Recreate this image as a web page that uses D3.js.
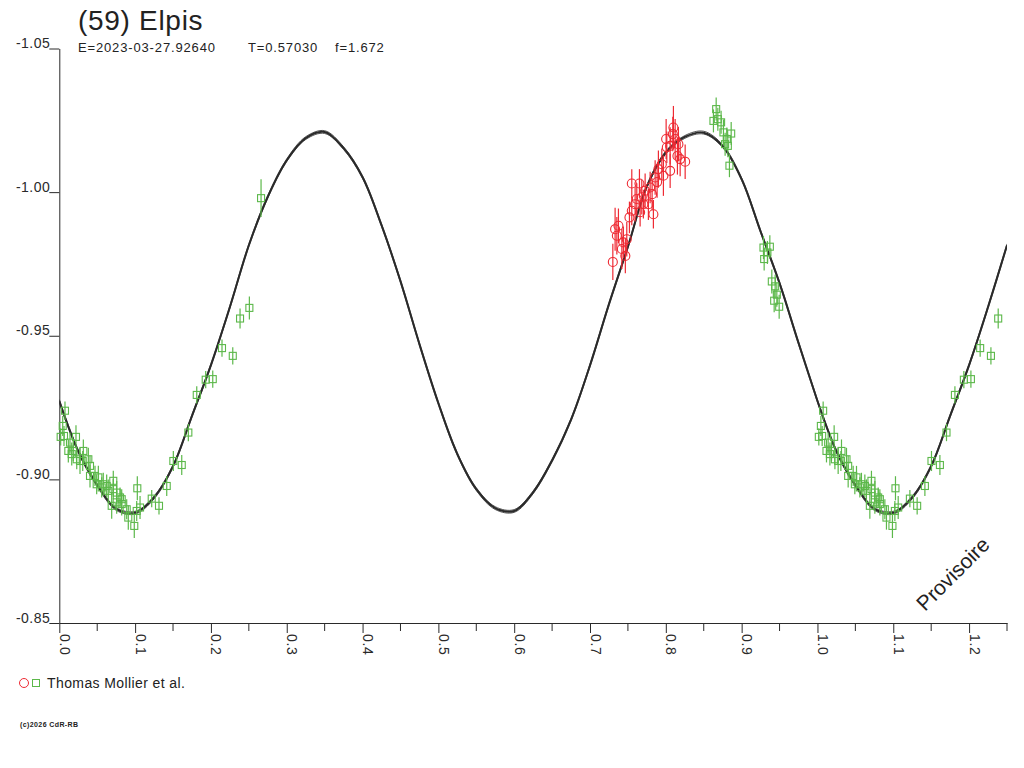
<!DOCTYPE html>
<html>
<head>
<meta charset="utf-8">
<script src="https://cdn.jsdelivr.net/npm/d3@7"></script>
<style>
  body { margin: 0; background: #fff; }
  text { font-family: "Liberation Sans", Arial, sans-serif; fill: #222; }
</style>
</head>
<body>
<div id="chart"></div>
<script>
/* DATA */
const title = "(59) Elpis"
const infoLabels = ["E=2023-03-27.92640", "T=0.57030", "f=1.672"]
const legendLabel = "Thomas Mollier et al."
const stamp = "Provisoire"
const copyright = "(c)2026 CdR-RB"

const yTicks = [-1.05, -1.00, -0.95, -0.90, -0.85]
const xTicks = [0.0, 0.1, 0.2, 0.3, 0.4, 0.5, 0.6, 0.7, 0.8, 0.9, 1.0, 1.1, 1.2]
const xMinorTicks = [0.05, 0.15, 0.25, 0.35, 0.45, 0.55, 0.65, 0.75, 0.85, 0.95, 1.05, 1.15, 1.25]

// fitted curve, one full period
const curvePhase = [0.000, 0.025, 0.050, 0.075, 0.100, 0.125, 0.150, 0.175, 0.200, 0.225,
  0.250, 0.275, 0.300, 0.325, 0.350, 0.375, 0.400, 0.425, 0.450, 0.475,
  0.500, 0.525, 0.550, 0.575, 0.600, 0.625, 0.650, 0.675, 0.700, 0.725,
  0.750, 0.775, 0.800, 0.825, 0.850, 0.875, 0.900, 0.925, 0.950, 0.975, 1.000]
const curveMag = [-0.9273, -0.9098, -0.8980, -0.8897, -0.8884, -0.8937, -0.9046, -0.9221, -0.9398, -0.9600,
  -0.9815, -0.9984, -1.0111, -1.0188, -1.0209, -1.0153, -1.0052, -0.9885, -0.9690, -0.9471,
  -0.9265, -0.9088, -0.8966, -0.8900, -0.8890, -0.8955, -0.9066, -0.9208, -0.9397, -0.9610,
  -0.9810, -1.0020, -1.0138, -1.0192, -1.0207, -1.0160, -1.0045, -0.9863, -0.9683, -0.9475, -0.9273]

// squares
const sqPhase = [0.0075, 0.0045, 0.0018, 0.0062, 0.0220, 0.0141, 0.0119, 0.0185, 0.0164, 0.0230,
  0.0317, 0.0309, 0.0383, 0.0273, 0.0405, 0.0405, 0.0471, 0.0515, 0.0493, 0.0580,
  0.0559, 0.0625, 0.0712, 0.0646, 0.0712, 0.0757, 0.0801, 0.0691, 0.0823, 0.0889,
  0.0910, 0.0989, 0.1029, 0.1065, 0.1219, 0.1315, 0.1417, 0.1504, 0.1615, 0.1702,
  0.1021, 0.0757, 0.0823, 0.1813, 0.1931, 0.2024, 0.2146, 0.2288, 0.2384, 0.2507, 0.2661,
  0.8664, 0.8686, 0.8628, 0.8729, 0.8760, 0.8862, 0.8805, 0.8782, 0.8818, 0.8839,
  0.9288, 0.9372, 0.9340, 0.9297, 0.9398, 0.9442, 0.9464, 0.9429, 0.9495]
const sqMag = [-0.9239, -0.9186, -0.9148, -0.9151, -0.9148, -0.9128, -0.9099, -0.9099, -0.9088, -0.9070,
  -0.9099, -0.9064, -0.9070, -0.9064, -0.9047, -0.9012, -0.9012, -0.9007, -0.8983, -0.8983,
  -0.8972, -0.8977, -0.8995, -0.8960, -0.8966, -0.8954, -0.8937, -0.8908, -0.8914, -0.8896,
  -0.8867, -0.8838, -0.8969, -0.8902, -0.8933, -0.8908, -0.8977, -0.9064, -0.9050, -0.9163,
  -0.8890, -0.8920, -0.8931, -0.9294, -0.9347, -0.9349, -0.9457, -0.9430, -0.9560, -0.9597, -0.9979,
  -1.0289, -1.0254, -1.0248, -1.0243, -1.0208, -1.0204, -1.0185, -1.0167, -1.0161, -1.0092,
  -0.9807, -0.9810, -0.9790, -0.9767, -0.9689, -0.9672, -0.9643, -0.9622, -0.9601]
const sqErr = [0.0032, 0.0035, 0.0030, 0.0035, 0.0040, 0.0035, 0.0040, 0.0035, 0.0040, 0.0035,
  0.0040, 0.0035, 0.0040, 0.0045, 0.0035, 0.0040, 0.0035, 0.0040, 0.0035, 0.0040,
  0.0035, 0.0040, 0.0035, 0.0040, 0.0035, 0.0040, 0.0035, 0.0045, 0.0040, 0.0035,
  0.0042, 0.0042, 0.0042, 0.0040, 0.0030, 0.0030, 0.0035, 0.0035, 0.0035, 0.0030,
  0.0035, 0.0040, 0.0035, 0.0030, 0.0030, 0.0030, 0.0030, 0.0030, 0.0035, 0.0040, 0.0066,
  0.0040, 0.0040, 0.0040, 0.0040, 0.0045, 0.0040, 0.0040, 0.0040, 0.0040, 0.0040,
  0.0040, 0.0040, 0.0040, 0.0040, 0.0042, 0.0040, 0.0042, 0.0040, 0.0042]

// circles
const ciPhase = [0.7301, 0.7331, 0.7375, 0.7354, 0.7440, 0.7485, 0.7420, 0.7520, 0.7551, 0.7595,
  0.7551, 0.7652, 0.7617, 0.7683, 0.7704, 0.7770, 0.7836, 0.7727, 0.7793, 0.7859,
  0.7902, 0.7947, 0.7968, 0.8057, 0.8004, 0.8057, 0.8100, 0.8092, 0.8123, 0.8166,
  0.8153, 0.8255, 0.8189, 0.8013, 0.7466, 0.7885, 0.7661, 0.7819]
const ciMag = [-0.9757, -0.9871, -0.9883, -0.9848, -0.9825, -0.9836, -0.9802, -0.9912, -0.9935, -0.9958,
  -1.0030, -1.0030, -0.9976, -0.9982, -0.9958, -0.9958, -0.9923, -1.0005, -1.0016, -1.0051,
  -1.0080, -1.0097, -1.0057, -1.0074, -1.0185, -1.0161, -1.0225, -1.0202, -1.0185, -1.0167,
  -1.0126, -1.0106, -1.0115, -1.0156, -0.9778, -1.0035, -0.9930, -0.9993]
const ciErr = [0.0063, 0.0075, 0.0060, 0.0065, 0.0055, 0.0060, 0.0070, 0.0055, 0.0050, 0.0060,
  0.0050, 0.0050, 0.0055, 0.0060, 0.0050, 0.0055, 0.0050, 0.0060, 0.0055, 0.0060,
  0.0065, 0.0055, 0.0070, 0.0060, 0.0070, 0.0065, 0.0075, 0.0060, 0.0070, 0.0060,
  0.0065, 0.0060, 0.0060, 0.0055, 0.0060, 0.0055, 0.0050, 0.0055]

/* CONSTANTS */
const width = 1024
const height = 768
const plot = { left: 59.3, right: 1007, top: 48.5, bottom: 623 }
const green = "#5cb84a"
const red = "#ee2a33"
const ink = "#2a2a2a"

// folded data: phases 0..0.25 repeat after 1.0
const fold = ph => ph.map((p, i) => ({ p: p, i: i }))
  .concat(ph.map((p, i) => ({ p: p + 1, i: i })).filter(d => d.p <= 1.25))

/* SCALES */
const xScale = d3.scaleLinear().domain([0, 1.25]).range([plot.left, plot.right])
const yScale = d3.scaleLinear().domain([-1.05, -0.85]).range([plot.top, plot.bottom])

const svg = d3.select("#chart").append("svg")
  .attr("width", width)
  .attr("height", height)
  .style("background", "#fff")

/* AXES */
const yAxis = d3.axisLeft(yScale)
  .tickValues(yTicks)
  .tickFormat(d => d.toFixed(2)) // plain hyphen, not the unicode minus
  .tickSize(10)
  .tickSizeOuter(0)
const yAxisGroup = svg.append("g")
  .attr("transform", `translate(${plot.left},0)`)
  .call(yAxis)
yAxisGroup.selectAll("text")
  .attr("x", -9).attr("dy", 0).attr("y", -1)
  .style("font-size", "14px").style("letter-spacing", "0.5px")
  .style("fill", ink)

const xAxis = d3.axisBottom(xScale)
  .tickValues(xTicks)
  .tickFormat(d => d.toFixed(1))
  .tickSize(10)
  .tickSizeOuter(0)
const xAxisGroup = svg.append("g")
  .attr("transform", `translate(0,${plot.bottom})`)
  .call(xAxis)
xAxisGroup.selectAll("text")
  .attr("transform", "rotate(90)")
  .attr("x", 11).attr("y", 0).attr("dy", 0)
  .attr("text-anchor", "start")
  .style("font-size", "14px").style("letter-spacing", "0.6px")
  .style("fill", ink)
xAxisGroup.selectAll(".minor")
  .data(xMinorTicks)
  .join("line")
    .attr("class", "minor")
    .attr("x1", d => xScale(d)).attr("x2", d => xScale(d))
    .attr("y1", 0).attr("y2", 8)
    .attr("stroke", ink)
svg.selectAll(".domain, .tick line").attr("stroke", ink)

/* CURVE */
const curveData = fold(curvePhase)
  .filter(d => !(d.p > 1 && d.i === 0)) // phase 1.0 already there
  .map(d => ({ p: d.p, m: curveMag[d.i] }))
  .sort((a, b) => a.p - b.p)
const line = d3.line()
  .x(d => xScale(d.p))
  .y(d => yScale(d.m))
  .curve(d3.curveCatmullRom)

svg.append("clipPath").attr("id", "plotclip")
  .append("rect")
  .attr("x", plot.left).attr("y", plot.top)
  .attr("width", plot.right - plot.left).attr("height", plot.bottom - plot.top)

const curveG = svg.append("g").attr("clip-path", "url(#plotclip)")
curveG.selectAll("path")
  .data([-1.4, 1.4, 0])
  .join("path")
    .attr("d", line(curveData))
    .attr("transform", d => `translate(0,${d})`)
    .attr("fill", "none")
    .attr("stroke", ink)
    .attr("stroke-width", d => d === 0 ? 2 : 0.8)

/* POINTS */
const sqData = fold(sqPhase).map(d => ({ p: d.p, m: sqMag[d.i], e: sqErr[d.i] }))
const ciData = ciPhase.map((p, i) => ({ p: p, m: ciMag[i], e: ciErr[i] }))

const sq = svg.append("g").selectAll("g")
  .data(sqData)
  .join("g")
sq.append("line")
  .attr("x1", d => xScale(d.p)).attr("x2", d => xScale(d.p))
  .attr("y1", d => yScale(d.m - d.e)).attr("y2", d => yScale(d.m + d.e))
  .attr("stroke", green).attr("stroke-width", 1.2)
sq.append("rect")
  .attr("x", d => xScale(d.p) - 3.5).attr("y", d => yScale(d.m) - 3.5)
  .attr("width", 7).attr("height", 7)
  .attr("fill", "none").attr("stroke", green).attr("stroke-width", 1.1)

const ci = svg.append("g").selectAll("g")
  .data(ciData)
  .join("g")
ci.append("line")
  .attr("x1", d => xScale(d.p)).attr("x2", d => xScale(d.p))
  .attr("y1", d => yScale(d.m - d.e)).attr("y2", d => yScale(d.m + d.e))
  .attr("stroke", red).attr("stroke-width", 1.2)
ci.append("circle")
  .attr("cx", d => xScale(d.p)).attr("cy", d => yScale(d.m))
  .attr("r", 4.5)
  .attr("fill", "none").attr("stroke", red).attr("stroke-width", 1.1)

/* TEXTS */
svg.append("text")
  .attr("x", 78).attr("y", 30)
  .style("font-size", "28px").style("letter-spacing", "0.7px")
  .text(title)

svg.selectAll(".info")
  .data(infoLabels)
  .join("text")
    .attr("class", "info")
    .attr("x", (d, i) => [78, 248, 335][i])
    .attr("y", 52)
    .style("font-size", "13px").style("letter-spacing", "0.85px")
    .text(d => d)

svg.append("text")
  .attr("transform", "translate(958,579) rotate(-45)")
  .attr("text-anchor", "middle")
  .style("font-size", "21px")
  .text(stamp)

// legend
svg.append("circle")
  .attr("cx", 24).attr("cy", 683).attr("r", 4.5)
  .attr("fill", "none").attr("stroke", red)
svg.append("rect")
  .attr("x", 32.5).attr("y", 679.5).attr("width", 7).attr("height", 7)
  .attr("fill", "none").attr("stroke", green)
svg.append("text")
  .attr("x", 47).attr("y", 688)
  .style("font-size", "14px").style("letter-spacing", "0.4px")
  .text(legendLabel)

svg.append("text")
  .attr("x", 20).attr("y", 727)
  .style("font-size", "7px").style("font-weight", "bold").style("letter-spacing", "0.4px")
  .text(copyright)
</script>
</body>
</html>
